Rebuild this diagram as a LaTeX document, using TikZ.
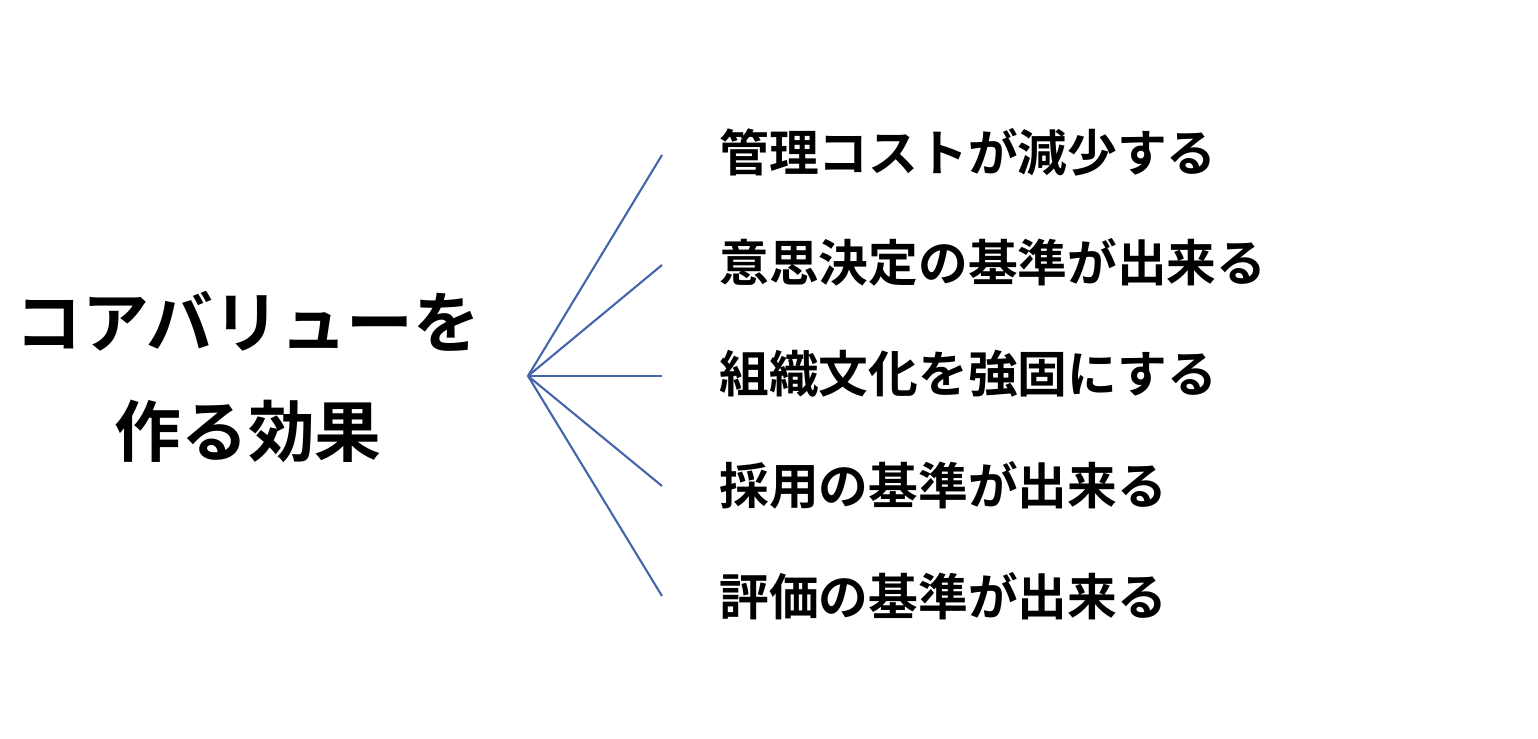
\documentclass[tikz,border=0pt]{standalone}
\usepackage{fontspec}
\setmainfont{Noto Sans CJK JP}[BoldFont={* Bold}]
\usepackage{tikz}
\definecolor{branchblue}{RGB}{68,101,170}
\tikzset{
	effect/.style={anchor=west, inner sep=0pt, font=\fontsize{28.3pt}{31pt}\selectfont\bfseries},
	branch/.style={line width=1.2pt, color=branchblue}
}
\begin{document}
\begin{tikzpicture}
			%%%%% START %%%%%
			\useasboundingbox (0, 0) rectangle (30.76, 14.78);
			
			\node[inner sep=0pt, align=center, font=\fontsize{38pt}{62pt}\selectfont\bfseries] (title) at (4.96, 7.24) {コアバリューを\\作る効果};
			
			\coordinate (hub) at (10.56, 7.26);
			
			\coordinate (e1) at (13.24, 11.68);
			\coordinate (e2) at (13.24, 9.48);
			\coordinate (e3) at (13.24, 7.26);
			\coordinate (e4) at (13.24, 5.06);
			\coordinate (e5) at (13.24, 2.86);
			
			\draw[branch] (hub) -- (e1);
			\draw[branch] (hub) -- (e2);
			\draw[branch] (hub) -- (e3);
			\draw[branch] (hub) -- (e4);
			\draw[branch] (hub) -- (e5);
			
			\node[effect] (cost) at (14.38, 11.74) {管理コストが減少する};
			\node[effect] (decide) at (14.38, 9.54) {意思決定の基準が出来る};
			\node[effect] (culture) at (14.38, 7.30) {組織文化を強固にする};
			\node[effect] (hire) at (14.38, 5.08) {採用の基準が出来る};
			\node[effect] (review) at (14.38, 2.86) {評価の基準が出来る};
			
			%%%%% END %%%%%
		\end{tikzpicture}
\end{document}
